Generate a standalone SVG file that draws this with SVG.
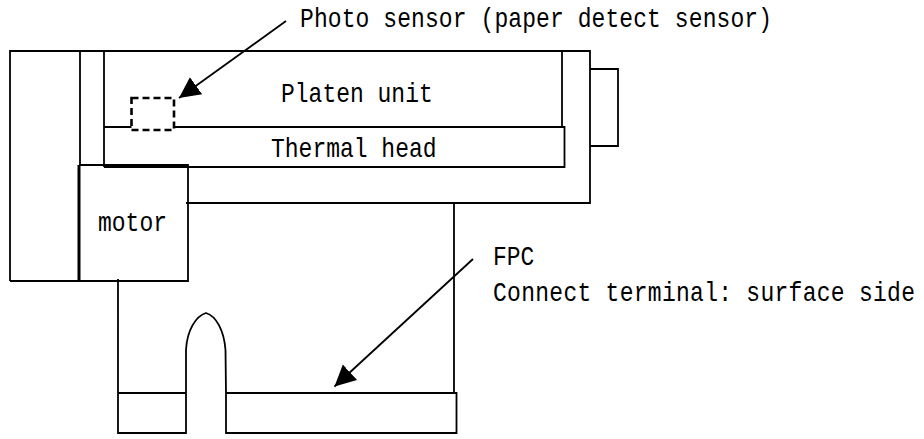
<svg xmlns="http://www.w3.org/2000/svg" width="924" height="439" viewBox="0 0 924 439">
<style>
.l{fill:none;stroke:#000;stroke-width:1.8}
.t{font-family:"Liberation Mono",monospace;font-size:23px;fill:#000}
</style>
<defs><marker id="ah" markerUnits="userSpaceOnUse" markerWidth="24" markerHeight="24" refX="21" refY="12" orient="auto"><path d="M0 1.500L21 12L0 22.500Z" fill="#000"/></marker></defs>
<rect width="924" height="439" fill="#fff"/>
<g id="frame"><path class="l" d="M10 281V51H590V203H186M80 51V165M104 51V167M562 51V127"/><path class="l" d="M10 281H79"/></g>
<g id="tab"><path class="l" d="M590 69H618V146H590"/></g>
<g id="platen-unit"><text class="t" transform="translate(281 102) scale(1 1.2)">Platen unit</text></g>
<g id="thermal-head"><path class="l" d="M104 127H564.500V167H104"/><text class="t" transform="translate(271 157) scale(1 1.2)">Thermal head</text></g>
<g id="photo-sensor"><rect x="131.500" y="98" width="42.500" height="32" fill="#fff" stroke="#000" stroke-width="2.600" stroke-dasharray="7 4"/></g>
<g id="motor"><path class="l" d="M79 165H188V281H79"/><path d="M79 165V281" stroke="#000" stroke-width="3"/><text class="t" transform="translate(98 231) scale(1 1.2)">motor</text></g>
<g id="fpc"><path class="l" d="M118 279V433H186V393H118M186 393V350C187 330 196 316 206 313C216 316 224 330 225.500 350L226 393V433H456.500V393H226M454 203V393"/></g>
<g id="connectors">
<path class="l" d="M286 21L179 98" marker-end="url(#ah)"/>
<path class="l" d="M473 259L334.500 386.500" marker-end="url(#ah)"/>
</g>
<g id="labels">
<text class="t" transform="translate(300 27) scale(1 1.2)" textLength="472">Photo sensor (paper detect sensor)</text>
<text class="t" transform="translate(493 265) scale(1 1.2)">FPC</text>
<text class="t" transform="translate(493 301) scale(1 1.2)" textLength="422">Connect terminal: surface side</text>
</g>
</svg>
